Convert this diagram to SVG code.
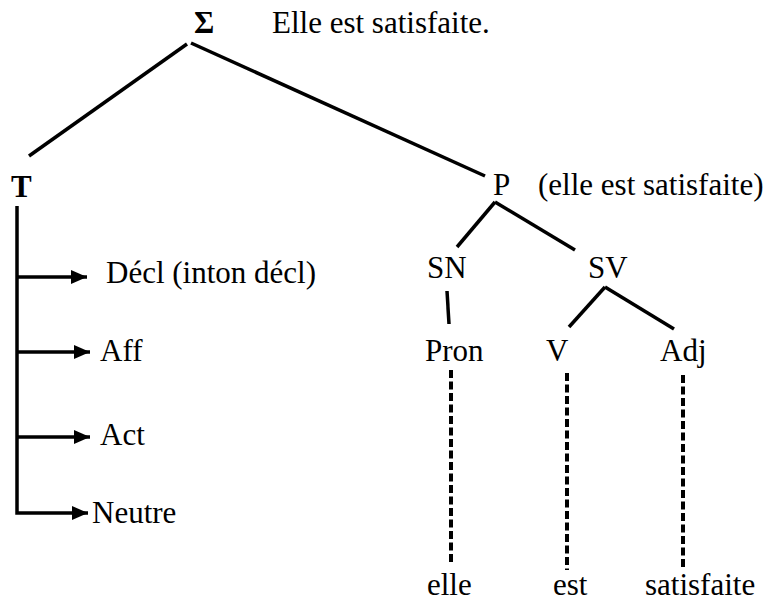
<svg xmlns="http://www.w3.org/2000/svg" width="771" height="613" viewBox="0 0 771 613">
<style>
text{font-family:"Liberation Serif","Times New Roman",Times,"DejaVu Serif",serif;font-size:31px;fill:#000}
.b{font-weight:bold}
.ln{stroke:#000;stroke-width:3.5;fill:none;stroke-linecap:butt}
.ar{stroke:#000;stroke-width:3.5;fill:none}
.ds{stroke:#000;stroke-width:4;fill:none;stroke-dasharray:8 3.5}
</style>
<defs>
<marker id="ah" markerUnits="userSpaceOnUse" markerWidth="18" markerHeight="14" refX="16" refY="7" orient="auto">
<polygon points="0,0 16,7 0,14" fill="#000"/>
</marker>
</defs>
<rect width="771" height="613" fill="#fff"/>
<g id="connectors">
<line class="ln" x1="187" y1="44" x2="29" y2="156"/>
<line class="ln" x1="191" y1="43" x2="485" y2="176"/>
<line class="ln" x1="495" y1="202" x2="457" y2="247"/>
<line class="ln" x1="495" y1="202" x2="575" y2="250"/>
<line class="ln" x1="447" y1="291" x2="449" y2="324"/>
<line class="ln" x1="605" y1="287" x2="569" y2="327"/>
<line class="ln" x1="605" y1="287" x2="674" y2="329"/>
<path class="ar" d="M17,206 V513 H88" marker-end="url(#ah)"/>
<line class="ar" x1="17" y1="277" x2="87" y2="277" marker-end="url(#ah)"/>
<line class="ar" x1="17" y1="352" x2="90" y2="352" marker-end="url(#ah)"/>
<line class="ar" x1="17" y1="437" x2="90" y2="437" marker-end="url(#ah)"/>
<line class="ds" x1="451" y1="370" x2="451" y2="564"/>
<line class="ds" x1="567" y1="373" x2="567" y2="570"/>
<line class="ds" x1="683" y1="375" x2="683" y2="570"/>
</g>
<g id="sigma"><text class="b" x="194" y="33">Σ</text></g>
<g id="sentence"><text x="272" y="33">Elle est satisfaite.</text></g>
<g id="T"><text class="b" x="11" y="197">T</text></g>
<g id="P"><text x="493" y="195">P</text><text x="538" y="195">(elle est satisfaite)</text></g>
<g id="decl"><text x="106" y="283">Décl (inton décl)</text></g>
<g id="aff"><text x="100" y="361">Aff</text></g>
<g id="act"><text x="100" y="445">Act</text></g>
<g id="neutre"><text x="92" y="523">Neutre</text></g>
<g id="SN"><text x="427" y="278">SN</text></g>
<g id="SV"><text x="588" y="278">SV</text></g>
<g id="Pron"><text x="425" y="361">Pron</text></g>
<g id="V"><text x="546" y="361">V</text></g>
<g id="Adj"><text x="660" y="361">Adj</text></g>
<g id="elle"><text x="427" y="595">elle</text></g>
<g id="est"><text x="553" y="595">est</text></g>
<g id="satisfaite"><text x="645" y="595">satisfaite</text></g>
</svg>
